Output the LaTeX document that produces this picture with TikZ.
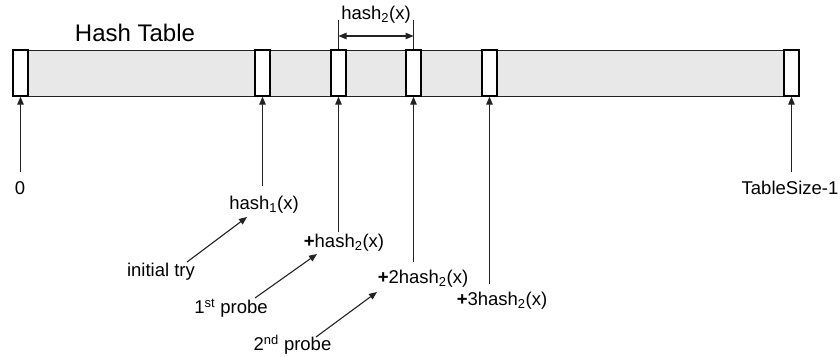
\documentclass[tikz,border=0pt]{standalone}
\usepackage{fontspec}
\setmainfont{Liberation Sans}
\usetikzlibrary{arrows.meta}
\definecolor{barfill}{HTML}{E8E8E8}
\definecolor{ink}{HTML}{222222}
\tikzset{
  bar/.style={draw=ink, fill=barfill, line width=1.2pt},
  slot/.style={draw=black, fill=white, line width=1.3pt, minimum width=15pt, minimum height=46pt, inner sep=0pt},
  arr/.style={draw=ink, line width=1.1pt, -{Triangle[length=8pt,width=6.5pt]}},
  darr/.style={draw=ink, line width=1.1pt, {Triangle[length=8pt,width=6.5pt]}-{Triangle[length=8pt,width=6.5pt]}},
  ext/.style={draw=ink, line width=1.1pt},
  lbl/.style={font=\fontsize{18.5}{20}\selectfont, inner sep=0pt},
  ttl/.style={font=\fontsize{24}{26}\selectfont, inner sep=0pt}
}
\begin{document}
\begin{tikzpicture}[x=1pt,y=-1pt]
\useasboundingbox (0,0) rectangle (840,356);
% table bar
\node[bar, minimum width=786pt, minimum height=46pt, inner sep=0pt, anchor=north west] (tbl) at (13,50) {};
% slots
\node[slot] (s0) at (20.5,73) {};
\node[slot] (s1) at (262.5,73) {};
\node[slot] (s2) at (338.5,73) {};
\node[slot] (s3) at (413.5,73) {};
\node[slot] (s4) at (489.5,73) {};
\node[slot] (s5) at (791.5,73) {};
% title
\node[ttl] (title) at (135,33) {Hash Table};
% top dimension
\coordinate (e2) at (338.5,20);
\coordinate (e3) at (413.5,20);
\draw[ext] (e2) -- (s2.north);
\draw[ext] (e3) -- (s3.north);
\coordinate (d2) at (338.5,36);
\coordinate (d3) at (413.5,36);
\draw[darr] (d2) -- (d3);
\node[lbl] (h2top) at (376,15) {hash\textsubscript{2}(x)};
% vertical pointers
\coordinate (p0) at (20.5,172);
\coordinate (p1) at (262.5,186);
\coordinate (p2) at (338.5,232);
\coordinate (p3) at (413.5,262);
\coordinate (p4) at (489.5,284);
\coordinate (p5) at (791.5,172);
\draw[arr] (p0) -- (s0.south);
\draw[arr] (p1) -- (s1.south);
\draw[arr] (p2) -- (s2.south);
\draw[arr] (p3) -- (s3.south);
\draw[arr] (p4) -- (s4.south);
\draw[arr] (p5) -- (s5.south);
% labels
\node[lbl] (l0) at (20,188) {0};
\node[lbl] (l5) at (790,188) {TableSize-1};
\node[lbl] (l1) at (264,205) {hash\textsubscript{1}(x)};
\node[lbl] (l2) at (344,243) {\textbf{+}hash\textsubscript{2}(x)};
\node[lbl] (l3) at (423,279) {\textbf{+}2hash\textsubscript{2}(x)};
\node[lbl] (l4) at (502,301) {\textbf{+}3hash\textsubscript{2}(x)};
% step labels
\node[lbl] (t0) at (161,272) {initial try};
\node[lbl] (t1) at (231,308) {1\textsuperscript{st} probe};
\node[lbl] (t2) at (292.5,345) {2\textsuperscript{nd} probe};
\coordinate (a0) at (187,262);
\coordinate (b0) at (247,217);
\coordinate (a1) at (255,298);
\coordinate (b1) at (317,254);
\coordinate (a2) at (316,337);
\coordinate (b2) at (377,292);
\draw[arr] (a0) -- (b0);
\draw[arr] (a1) -- (b1);
\draw[arr] (a2) -- (b2);
\end{tikzpicture}
\end{document}
